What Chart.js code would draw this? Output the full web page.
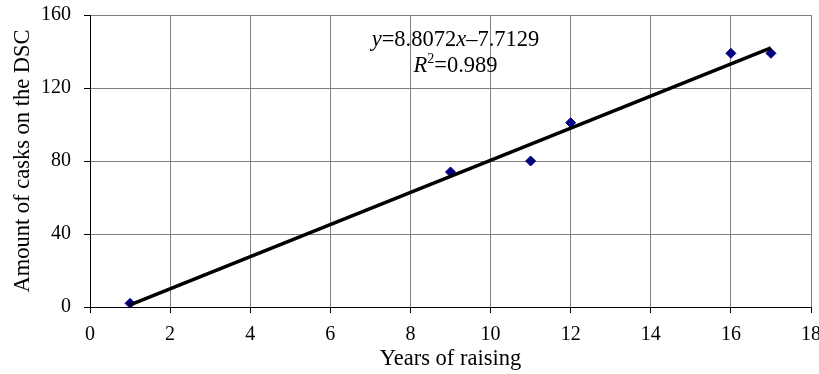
<!DOCTYPE html>
<html>
<head>
<meta charset="utf-8">
<script src="https://cdn.jsdelivr.net/npm/chart.js@4.4.1/dist/chart.umd.min.js"></script>
<style>
  html, body { margin: 0; padding: 0; background: #fff; }
  canvas { display: block; }
</style>
</head>
<body>
<canvas id="chart" width="819" height="374"></canvas>
<script>
// Data
const years = [1, 9, 11, 12, 16, 17];
const casks = [2, 74, 80, 101, 139, 139];

// Trend line ends (x = 1 and x = 17)
const trendX = [1, 17];
const trendY = [1.1, 142.0];

const xTicks = [0, 2, 4, 6, 8, 10, 12, 14, 16, 18];
const yTicks = [0, 40, 80, 120, 160];

const serif = "'Liberation Serif', 'Times New Roman', serif";

// Equation text drawn over the plot
const equationPlugin = {
    id: 'equation',
    afterDatasetsDraw(chart) {
        const c = chart.ctx;
        const area = chart.chartArea;
        const cx = (area.left + area.right) / 2 + 5;

        function drawLine(parts, baseline) {
            let total = 0;
            parts.forEach(p => {
                c.font = p.font;
                total += c.measureText(p.t).width;
            });
            let x = cx - total / 2;
            parts.forEach(p => {
                c.font = p.font;
                c.fillText(p.t, x, baseline + (p.dy || 0));
                x += c.measureText(p.t).width;
            });
        }

        c.save();
        c.fillStyle = '#000';
        c.textBaseline = 'alphabetic';
        c.textAlign = 'left';
        const n = '22.5px ' + serif;
        const it = 'italic 22.5px ' + serif;
        drawLine([
            { t: 'y', font: it },
            { t: '=8.8072', font: n },
            { t: 'x', font: it },
            { t: '\u20137.7129', font: n }
        ], area.top + 31);
        drawLine([
            { t: 'R', font: it },
            { t: '2', font: '14px ' + serif, dy: -9 },
            { t: '=0.989', font: n }
        ], area.top + 57);
        c.restore();
    }
};

const ctx = document.getElementById('chart').getContext('2d');
new Chart(ctx, {
    type: 'scatter',
    data: {
        datasets: [
            {
                label: 'Trend',
                data: trendX.map((x, i) => ({ x: x, y: trendY[i] })),
                showLine: true,
                borderColor: '#000',
                borderWidth: 3.5,
                pointRadius: 0,
                fill: false
            },
            {
                label: 'Casks',
                data: years.map((x, i) => ({ x: x, y: casks[i] })),
                pointStyle: 'rectRot',
                pointRadius: 5,
                backgroundColor: '#000080',
                borderColor: '#000080',
                borderWidth: 1
            }
        ]
    },
    options: {
        responsive: false,
        animation: false,
        layout: { autoPadding: false, padding: { top: 15, right: 8, left: 0, bottom: 0 } },
        plugins: {
            legend: { display: false },
            tooltip: { enabled: false }
        },
        scales: {
            x: {
                type: 'linear',
                min: 0,
                max: 18,
                afterBuildTicks: scale => { scale.ticks = xTicks.map(v => ({ value: v })); },
                afterFit: scale => {
                    scale.height = 67;
                    scale.paddingLeft = 0;
                    scale.paddingRight = 0;
                },
                ticks: {
                    color: '#000',
                    font: { family: serif, size: 20 },
                    padding: 10,
                    maxRotation: 0
                },
                grid: {
                    color: '#808080',
                    lineWidth: 1,
                    tickColor: '#000',
                    tickLength: 6
                },
                border: { color: '#000', width: 1 },
                title: {
                    display: true,
                    text: 'Years of raising',
                    color: '#000',
                    font: { family: serif, size: 22.5 },
                    padding: { top: 0, bottom: 1 }
                }
            },
            y: {
                type: 'linear',
                min: 0,
                max: 160,
                afterBuildTicks: scale => { scale.ticks = yTicks.map(v => ({ value: v })); },
                afterFit: scale => {
                    scale.width = 90;
                    scale.paddingTop = 0;
                    scale.paddingBottom = 0;
                },
                ticks: {
                    color: '#000',
                    font: { family: serif, size: 20 },
                    padding: 13
                },
                grid: {
                    color: '#808080',
                    lineWidth: 1,
                    tickColor: '#000',
                    tickLength: 6
                },
                border: { color: '#000', width: 1 },
                title: {
                    display: true,
                    text: 'Amount of casks on the DSC',
                    color: '#000',
                    font: { family: serif, size: 22.5 },
                    padding: { top: 10, bottom: 0 }
                }
            }
        }
    },
    plugins: [equationPlugin]
});
</script>
</body>
</html>
